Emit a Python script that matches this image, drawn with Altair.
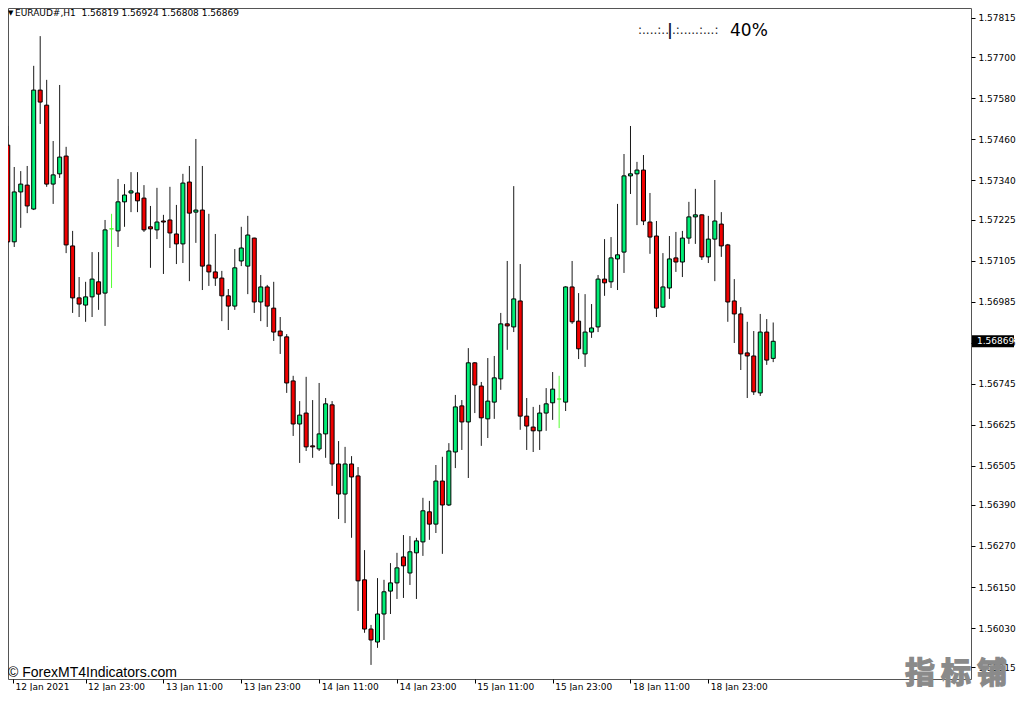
import json
import altair as alt
import pandas as pd

# ---- data (EURAUD H1 candles) ----
open_ = [1.57443, 1.57160, 1.57306, 1.57326, 1.57256, 1.57604, 1.57560, 1.57329, 1.57359, 1.57411,
         1.57148, 1.56996, 1.56975, 1.56999, 1.57043, 1.57010, 1.57198, 1.57192, 1.57277, 1.57303,
         1.57303, 1.57288, 1.57204, 1.57195, 1.57221, 1.57224, 1.57183, 1.57154, 1.57335, 1.57247,
         1.57253, 1.57092, 1.57072, 1.57054, 1.57002, 1.56972, 1.57104, 1.57089, 1.57171, 1.56984,
         1.57028, 1.56966, 1.56899, 1.56882, 1.56753, 1.56627, 1.56659, 1.56563, 1.56554, 1.56598,
         1.56683, 1.56510, 1.56422, 1.56510, 1.56475, 1.56171, 1.56027, 1.55989, 1.56071, 1.56138,
         1.56162, 1.56238, 1.56191, 1.56250, 1.56282, 1.56370, 1.56334, 1.56460, 1.56390, 1.56545,
         1.56680, 1.56633, 1.56806, 1.56738, 1.56642, 1.56691, 1.56759, 1.56920, 1.56911, 1.56987,
         1.56650, 1.56618, 1.56607, 1.56659, 1.56689, 1.56700, 1.56691, 1.57028, 1.56928, 1.56832,
         1.56896, 1.56911, 1.57051, 1.57043, 1.57110, 1.57130, 1.57353, 1.57359, 1.57370, 1.57218,
         1.57177, 1.56969, 1.57025, 1.57113, 1.57101, 1.57171, 1.57233, 1.57239, 1.57116, 1.57168,
         1.57212, 1.57151, 1.56987, 1.56949, 1.56835, 1.56826, 1.56718, 1.56896, 1.56819]

high = [1.57499, 1.57379, 1.57367, 1.57382, 1.57675, 1.57762, 1.57634, 1.57455, 1.57619, 1.57438,
        1.57192, 1.57057, 1.57043, 1.57130, 1.57130, 1.57224, 1.57242, 1.57344, 1.57329, 1.57364,
        1.57364, 1.57326, 1.57265, 1.57318, 1.57239, 1.57321, 1.57268, 1.57359, 1.57382, 1.57461,
        1.57382, 1.57242, 1.57183, 1.57075, 1.57022, 1.57139, 1.57204, 1.57236, 1.57172, 1.57063,
        1.57034, 1.57043, 1.56940, 1.56890, 1.56768, 1.56694, 1.56765, 1.56697, 1.56747, 1.56703,
        1.56694, 1.56577, 1.56560, 1.56533, 1.56501, 1.56258, 1.56039, 1.56176, 1.56171, 1.56220,
        1.56250, 1.56302, 1.56299, 1.56294, 1.56411, 1.56402, 1.56507, 1.56531, 1.56571, 1.56712,
        1.56697, 1.56849, 1.56808, 1.56750, 1.56820, 1.56826, 1.56952, 1.57104, 1.57323, 1.57095,
        1.56703, 1.56677, 1.56683, 1.56732, 1.56779, 1.56768, 1.57030, 1.57104, 1.57010, 1.57007,
        1.56978, 1.57063, 1.57168, 1.57174, 1.57271, 1.57417, 1.57499, 1.57394, 1.57414, 1.57303,
        1.57221, 1.57127, 1.57177, 1.57189, 1.57192, 1.57277, 1.57315, 1.57240, 1.57236, 1.57341,
        1.57247, 1.57154, 1.57051, 1.56969, 1.56926, 1.56899, 1.56949, 1.56934, 1.56924]

low = [1.57157, 1.57145, 1.57201, 1.57244, 1.57253, 1.57505, 1.57321, 1.57271, 1.57347, 1.57127,
       1.56952, 1.56940, 1.56926, 1.56940, 1.56961, 1.56914, 1.57025, 1.57145, 1.57204, 1.57247,
       1.57247, 1.57189, 1.57084, 1.57168, 1.57066, 1.57142, 1.57095, 1.57098, 1.57045, 1.57157,
       1.57019, 1.57031, 1.57031, 1.56928, 1.56902, 1.56961, 1.57089, 1.57007, 1.56952, 1.56928,
       1.56911, 1.56870, 1.56832, 1.56718, 1.56592, 1.56513, 1.56548, 1.56528, 1.56548, 1.56528,
       1.56446, 1.56349, 1.56337, 1.56294, 1.56080, 1.56016, 1.55922, 1.55972, 1.55995, 1.56071,
       1.56115, 1.56118, 1.56156, 1.56115, 1.56241, 1.56288, 1.56308, 1.56247, 1.56387, 1.56498,
       1.56551, 1.56469, 1.56659, 1.56563, 1.56586, 1.56642, 1.56727, 1.56844, 1.56896, 1.56610,
       1.56551, 1.56545, 1.56551, 1.56607, 1.56639, 1.56615, 1.56665, 1.56920, 1.56817, 1.56794,
       1.56879, 1.56896, 1.57002, 1.57025, 1.57019, 1.57069, 1.57300, 1.57209, 1.57209, 1.57125,
       1.56940, 1.56967, 1.56993, 1.57072, 1.57057, 1.57154, 1.57154, 1.57107, 1.57098, 1.57045,
       1.57116, 1.56926, 1.56864, 1.56785, 1.56703, 1.56712, 1.56709, 1.56800, 1.56808]

close = [1.57160, 1.57306, 1.57329, 1.57265, 1.57604, 1.57569, 1.57329, 1.57356, 1.57408, 1.57151,
         1.56996, 1.56978, 1.56999, 1.57051, 1.57007, 1.57195, 1.57198, 1.57277, 1.57297, 1.57309,
         1.57280, 1.57195, 1.57198, 1.57218, 1.57218, 1.57186, 1.57154, 1.57332, 1.57244, 1.57253,
         1.57089, 1.57072, 1.57054, 1.57002, 1.56972, 1.57084, 1.57142, 1.57180, 1.56984, 1.57028,
         1.56972, 1.56896, 1.56885, 1.56747, 1.56627, 1.56653, 1.56560, 1.56560, 1.56598, 1.56686,
         1.56510, 1.56422, 1.56510, 1.56472, 1.56168, 1.56027, 1.55995, 1.56071, 1.56136, 1.56162,
         1.56206, 1.56212, 1.56253, 1.56285, 1.56373, 1.56334, 1.56460, 1.56390, 1.56548, 1.56677,
         1.56633, 1.56806, 1.56741, 1.56645, 1.56694, 1.56762, 1.56920, 1.56914, 1.56993, 1.56650,
         1.56621, 1.56607, 1.56659, 1.56686, 1.56729, 1.56700, 1.57028, 1.56926, 1.56847, 1.56896,
         1.56908, 1.57051, 1.57040, 1.57113, 1.57122, 1.57353, 1.57359, 1.57370, 1.57221, 1.57174,
         1.56966, 1.57028, 1.57110, 1.57101, 1.57171, 1.57233, 1.57239, 1.57116, 1.57168, 1.57221,
         1.57148, 1.56984, 1.56949, 1.56832, 1.56826, 1.56721, 1.56896, 1.56814, 1.56869]

time_labels = ["12 Jan 2021", "12 Jan 23:00", "13 Jan 11:00", "13 Jan 23:00", "14 Jan 11:00",
               "14 Jan 23:00", "15 Jan 11:00", "15 Jan 23:00", "18 Jan 11:00", "18 Jan 23:00"]
time_bars = [0, 12, 24, 36, 48, 60, 72, 84, 96, 108]

price_ticks = [1.57815, 1.57700, 1.57580, 1.57460, 1.57340, 1.57225, 1.57105, 1.56985, 1.56865,
               1.56745, 1.56625, 1.56505, 1.56390, 1.56270, 1.56150, 1.56030, 1.55915]

symbol = "EURAUD#,H1"
timer_left = ":....:.."
timer_bar = "|"
timer_right = ".:.....:...:"
timer_pct = "40%"
copyright_text = "\u00a9 ForexMT4Indicators.com"
watermark = "指标铺"

# ---- build table ----
n = len(close)
UP, DOWN, DOJI = "#00EE76", "#F00000", "#55FF33"
dirs = ["up" if c > o else ("down" if c < o else "doji") for o, c in zip(open_, close)]
df = pd.DataFrame({
    "bar": list(range(n)),
    "open": open_, "high": high, "low": low, "close": close,
    "fill": [UP if d == "up" else (DOWN if d == "down" else DOJI) for d in dirs],
    "stroke": ["#000000" if d != "doji" else DOJI for d in dirs],
    "wick": ["#1a1a1a" if d != "doji" else DOJI for d in dirs],
})

W, H = 963, 671
x_min = 0.8086
x_scale = alt.Scale(domain=[x_min, 147.72], nice=False, zero=False)
y_scale = alt.Scale(domain=[1.558808, 1.5784426], nice=False, zero=False)

label_expr = json.dumps(time_labels) + "[round(datum.value / 12)]"
x_axis = alt.Axis(orient="bottom", values=[x_min] + time_bars[1:], labelExpr=label_expr,
                  title=None, tickSize=4, labelPadding=-1, labelAlign="left", labelOffset=2,
                  labelOverlap=False, labelFlush=False, labelBound=False, domain=False, grid=False)
y_axis = alt.Axis(orient="right", values=price_ticks, format=".5f", title=None, tickSize=4,
                  labelPadding=3, labelAlign="left", labelBaseline="middle", domain=False,
                  grid=False, labelOverlap=False, labelFlush=False, labelBound=False)

base = alt.Chart(df)

wicks = base.mark_rule(strokeWidth=1, clip=True).encode(
    x=alt.X("bar:Q", scale=x_scale, axis=x_axis),
    y=alt.Y("low:Q", scale=y_scale, axis=y_axis),
    y2="high:Q",
    color=alt.Color("wick:N", scale=None),
)

bodies = base.mark_bar(size=4, strokeWidth=1, clip=True).encode(
    x=alt.X("bar:Q", scale=x_scale, axis=x_axis),
    y=alt.Y("open:Q", scale=y_scale, axis=y_axis),
    y2="close:Q",
    fill=alt.Fill("fill:N", scale=None),
    stroke=alt.Stroke("stroke:N", scale=None),
)

last = pd.DataFrame({"p": [close[-1]]})
price_box = alt.Chart(last).mark_rule(color="black", strokeWidth=12, strokeCap="butt").encode(
    y=alt.Y("p:Q", scale=y_scale, axis=y_axis), x=alt.value(964), x2=alt.value(1006))
price_txt = alt.Chart(last).mark_text(align="left", baseline="middle", color="white",
                                      font="DejaVu Sans", fontSize=9).encode(
    y=alt.Y("p:Q", scale=y_scale, axis=y_axis), x=alt.value(969), text=alt.Text("p:Q", format=".5f"))


def label(txt, x, y, size, font="DejaVu Sans", color="#000000", weight="normal", align="left",
          stroke=None):
    kw = dict(align=align, baseline="middle", font=font, fontSize=size, color=color, fontWeight=weight)
    if stroke:
        kw.update(stroke=stroke, strokeWidth=1.3)
    return alt.Chart(pd.DataFrame({"t": [txt]})).mark_text(**kw).encode(
        x=alt.value(x), y=alt.value(y), text="t:N")


header = f"{symbol}\u00a0\u00a0{open_[-1]:.5f} {high[-1]:.5f} {low[-1]:.5f} {close[-1]:.5f}"
layers = [
    wicks, bodies, price_box, price_txt,
    label("\u25bc", 0, 5, 7),
    label(header, 7, 5, 9),
    label(timer_left, 630, 22, 12, color="#222222"),
    label(timer_bar, 659, 22, 16, color="#1a1a3a", weight="bold"),
    label(timer_right, 664, 22, 12, color="#222222"),
    label(timer_pct, 722, 23, 17),
    label(copyright_text, 0, 665, 14, font="Liberation Sans"),
]
for k, ch in enumerate(watermark):
    layers.append(label(ch, 912 + 36 * k, 666, 30, font="Noto Sans CJK SC", color="#8a8a8a",
                        weight="bold", align="center", stroke="#8a8a8a"))

chart = alt.layer(*layers).properties(
    width=W, height=H,
    padding={"left": 0, "top": 0, "right": 45, "bottom": 12},
    autosize=alt.AutoSizeParams(type="none"),
    background="white",
).configure_view(stroke="#555555", strokeWidth=1).configure_axis(
    labelFont="DejaVu Sans", labelFontSize=9, labelColor="#000000", tickColor="#000000")

chart.save("out.html", embed_options={"renderer": "svg", "actions": False})
